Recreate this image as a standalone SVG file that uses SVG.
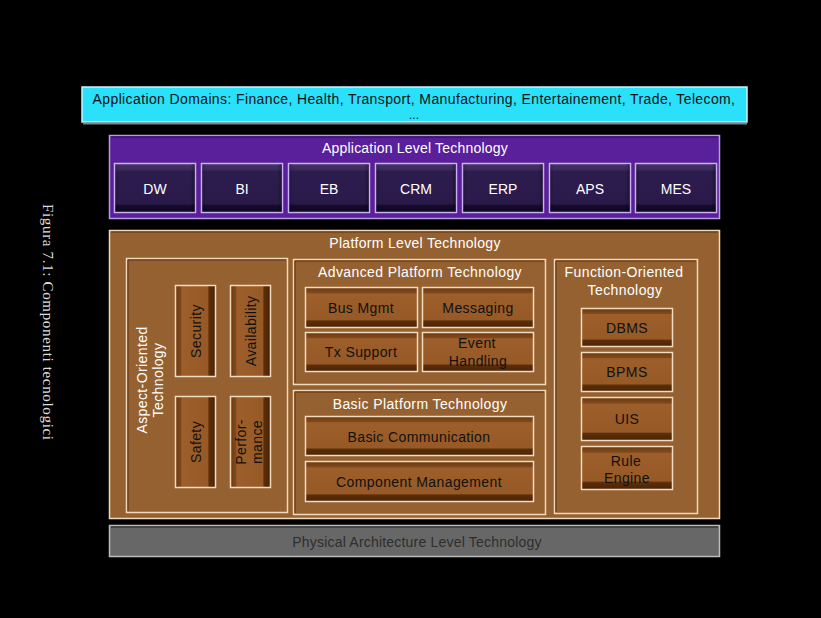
<svg xmlns="http://www.w3.org/2000/svg" width="821" height="618" viewBox="0 0 821 618">
<defs>
<linearGradient id="gBrown" x1="0" y1="0" x2="0" y2="1">
<stop offset="0" stop-color="#6A3A12"/><stop offset="0.13" stop-color="#80491B"/><stop offset="0.16" stop-color="#9C5E2A"/><stop offset="0.8" stop-color="#975A27"/><stop offset="0.84" stop-color="#5C2E0A"/><stop offset="1" stop-color="#4A2306"/>
</linearGradient>
<linearGradient id="gBrownV" x1="0" y1="0" x2="1" y2="0">
<stop offset="0" stop-color="#6A3A12"/><stop offset="0.13" stop-color="#80491B"/><stop offset="0.16" stop-color="#9C5E2A"/><stop offset="0.8" stop-color="#975A27"/><stop offset="0.84" stop-color="#5C2E0A"/><stop offset="1" stop-color="#4A2306"/>
</linearGradient>
<linearGradient id="gPurple" x1="0" y1="0" x2="0" y2="1">
<stop offset="0" stop-color="#463468"/><stop offset="0.13" stop-color="#3A2A5C"/><stop offset="0.16" stop-color="#2D1C4E"/><stop offset="0.82" stop-color="#2A1A4A"/><stop offset="0.86" stop-color="#160A2C"/><stop offset="1" stop-color="#0E0620"/>
</linearGradient>
<linearGradient id="gSide" x1="0" y1="0" x2="1" y2="0">
<stop offset="0" stop-color="#000" stop-opacity="0.18"/><stop offset="0.06" stop-color="#000" stop-opacity="0"/><stop offset="0.94" stop-color="#000" stop-opacity="0"/><stop offset="1" stop-color="#000" stop-opacity="0.3"/>
</linearGradient>
</defs>
<style>
text{font-family:"Liberation Sans",Arial,sans-serif;font-size:14px;text-anchor:middle}
.wt{fill:#FFFFFF}
.bt{fill:#111111}
.bb{fill:url(#gBrown);stroke:#F2DCC0;stroke-width:1.5}
.bv{fill:url(#gBrownV);stroke:#F2DCC0;stroke-width:1.5}
.pb{fill:url(#gPurple);stroke:#C9B0EE;stroke-width:1.5}
.side{fill:url(#gSide)}
.cont{fill:#966131;stroke:#F0D9BC;stroke-width:1.5}
.sh{fill:none;stroke:#5A3512;stroke-width:1}
.bt2{letter-spacing:0.4px}
</style>
<rect width="821" height="618" fill="#000"/>
<text x="47" y="322" transform="rotate(90 47 322)" dy="4" textLength="236" lengthAdjust="spacing" style="font-family:'Liberation Serif','Times New Roman',serif;font-size:15px;fill:#DDDDDD">Figura 7.1:  Componenti tecnologici</text>

<g id="domains">
<rect x="82" y="87" width="665" height="35" fill="#2AE0FA" stroke="#C8F6FF" stroke-width="1.5"/>
<line x1="83" y1="123.5" x2="747" y2="123.5" stroke="#7A8A90" stroke-width="2"/>
<text x="414" y="104" class="bt" style="letter-spacing:0.38px">Application Domains: Finance, Health, Transport, Manufacturing, Entertainement, Trade, Telecom,</text>
<text x="414" y="119" class="bt" style="font-size:12px">...</text>
</g>

<g id="app-level">
<rect x="109.5" y="135.5" width="610" height="83" fill="#5A1F9A" stroke="#B89BE2" stroke-width="1.5"/>
<line x1="111" y1="137" x2="718" y2="137" stroke="#3A1070" stroke-width="1.5"/>
<text x="415" y="153" class="wt" style="letter-spacing:0.2px">Application Level Technology</text>
</g>
<g id="dw"><rect x="114.5" y="163.5" width="81" height="49" class="pb"/><rect x="115" y="164" width="80" height="48" class="side"/><text x="155" y="194" class="wt">DW</text></g>
<g id="bi"><rect x="201.5" y="163.5" width="81" height="49" class="pb"/><rect x="202" y="164" width="80" height="48" class="side"/><text x="242" y="194" class="wt">BI</text></g>
<g id="eb"><rect x="288.5" y="163.5" width="81" height="49" class="pb"/><rect x="289" y="164" width="80" height="48" class="side"/><text x="329" y="194" class="wt">EB</text></g>
<g id="crm"><rect x="375.5" y="163.5" width="81" height="49" class="pb"/><rect x="376" y="164" width="80" height="48" class="side"/><text x="416" y="194" class="wt">CRM</text></g>
<g id="erp"><rect x="462.5" y="163.5" width="81" height="49" class="pb"/><rect x="463" y="164" width="80" height="48" class="side"/><text x="503" y="194" class="wt">ERP</text></g>
<g id="aps"><rect x="549.5" y="163.5" width="81" height="49" class="pb"/><rect x="550" y="164" width="80" height="48" class="side"/><text x="590" y="194" class="wt">APS</text></g>
<g id="mes"><rect x="635.5" y="163.5" width="81" height="49" class="pb"/><rect x="636" y="164" width="80" height="48" class="side"/><text x="676" y="194" class="wt">MES</text></g>

<g id="platform">
<rect x="109.5" y="230.5" width="610" height="288" class="cont"/>
<line x1="111" y1="232" x2="718" y2="232" class="sh"/>
<text x="415" y="248" class="wt" style="letter-spacing:0.3px">Platform Level Technology</text>
</g>

<g id="aspect">
<rect x="126.5" y="258.5" width="161" height="254" class="cont"/>
<path d="M128 511 V260 H286" class="sh"/>
<text transform="translate(147 380) rotate(-90)" class="wt bt2">Aspect-Oriented</text>
<text transform="translate(163 380) rotate(-90)" class="wt bt2">Technology</text>
</g>
<g id="security"><rect x="175.5" y="285.5" width="40" height="91" class="bv"/><text transform="translate(201 331) rotate(-90)" class="bt bt2">Security</text></g>
<g id="availability"><rect x="230.5" y="285.5" width="40" height="91" class="bv"/><text transform="translate(256 331) rotate(-90)" class="bt bt2">Availability</text></g>
<g id="safety"><rect x="175.5" y="396.5" width="40" height="91" class="bv"/><text transform="translate(201 442) rotate(-90)" class="bt bt2">Safety</text></g>
<g id="performance"><rect x="230.5" y="396.5" width="40" height="91" class="bv"/><text transform="translate(246 442) rotate(-90)" class="bt bt2">Perfor-</text><text transform="translate(262 442) rotate(-90)" class="bt bt2">mance</text></g>

<g id="advanced">
<rect x="293.5" y="259.5" width="252" height="125" class="cont"/>
<path d="M295 383 V261 H544" class="sh"/>
<text x="420" y="277" class="wt bt2">Advanced Platform Technology</text>
</g>
<g id="bus-mgmt"><rect x="305.5" y="287.5" width="112" height="40" class="bb"/><text x="361" y="313" class="bt bt2">Bus Mgmt</text></g>
<g id="messaging"><rect x="422.5" y="287.5" width="111" height="40" class="bb"/><text x="478" y="313" class="bt bt2">Messaging</text></g>
<g id="tx-support"><rect x="305.5" y="332.5" width="112" height="39" class="bb"/><text x="361" y="357" class="bt bt2">Tx Support</text></g>
<g id="event-handling"><rect x="422.5" y="332.5" width="111" height="39" class="bb"/><text x="477" y="348" class="bt bt2">Event</text><text x="478" y="366" class="bt bt2">Handling</text></g>

<g id="basic">
<rect x="293.5" y="390.5" width="252" height="124" class="cont"/>
<path d="M295 513 V392 H544" class="sh"/>
<text x="420" y="409" class="wt bt2">Basic Platform Technology</text>
</g>
<g id="basic-communication"><rect x="305.5" y="416.5" width="228" height="39" class="bb"/><text x="419" y="442" class="bt bt2">Basic Communication</text></g>
<g id="component-management"><rect x="305.5" y="461.5" width="228" height="40" class="bb"/><text x="419" y="487" class="bt bt2">Component Management</text></g>

<g id="function">
<rect x="554.5" y="259.5" width="143" height="254" class="cont"/>
<path d="M556 512 V261 H696" class="sh"/>
<text x="624" y="277" class="wt bt2">Function-Oriented</text>
<text x="625" y="295" class="wt bt2">Technology</text>
</g>
<g id="dbms"><rect x="581.5" y="308.5" width="91" height="38" class="bb"/><text x="627" y="333" class="bt bt2">DBMS</text></g>
<g id="bpms"><rect x="581.5" y="352.5" width="91" height="39" class="bb"/><text x="627" y="377" class="bt bt2">BPMS</text></g>
<g id="uis"><rect x="581.5" y="397.5" width="91" height="43" class="bb"/><text x="627" y="424" class="bt bt2">UIS</text></g>
<g id="rule-engine"><rect x="581.5" y="446.5" width="91" height="43" class="bb"/><text x="626" y="466" class="bt bt2">Rule</text><text x="627" y="483" class="bt bt2">Engine</text></g>

<g id="physical">
<rect x="109.5" y="525.5" width="610" height="31" fill="#676767" stroke="#BDBDBD" stroke-width="1.5"/>
<line x1="111" y1="527" x2="718" y2="527" stroke="#3A3A3A" stroke-width="1.5"/>
<text x="417" y="547" style="fill:#2E2E2E;letter-spacing:0.2px">Physical Architecture Level Technology</text>
</g>

<g id="connectors"></g>
</svg>
